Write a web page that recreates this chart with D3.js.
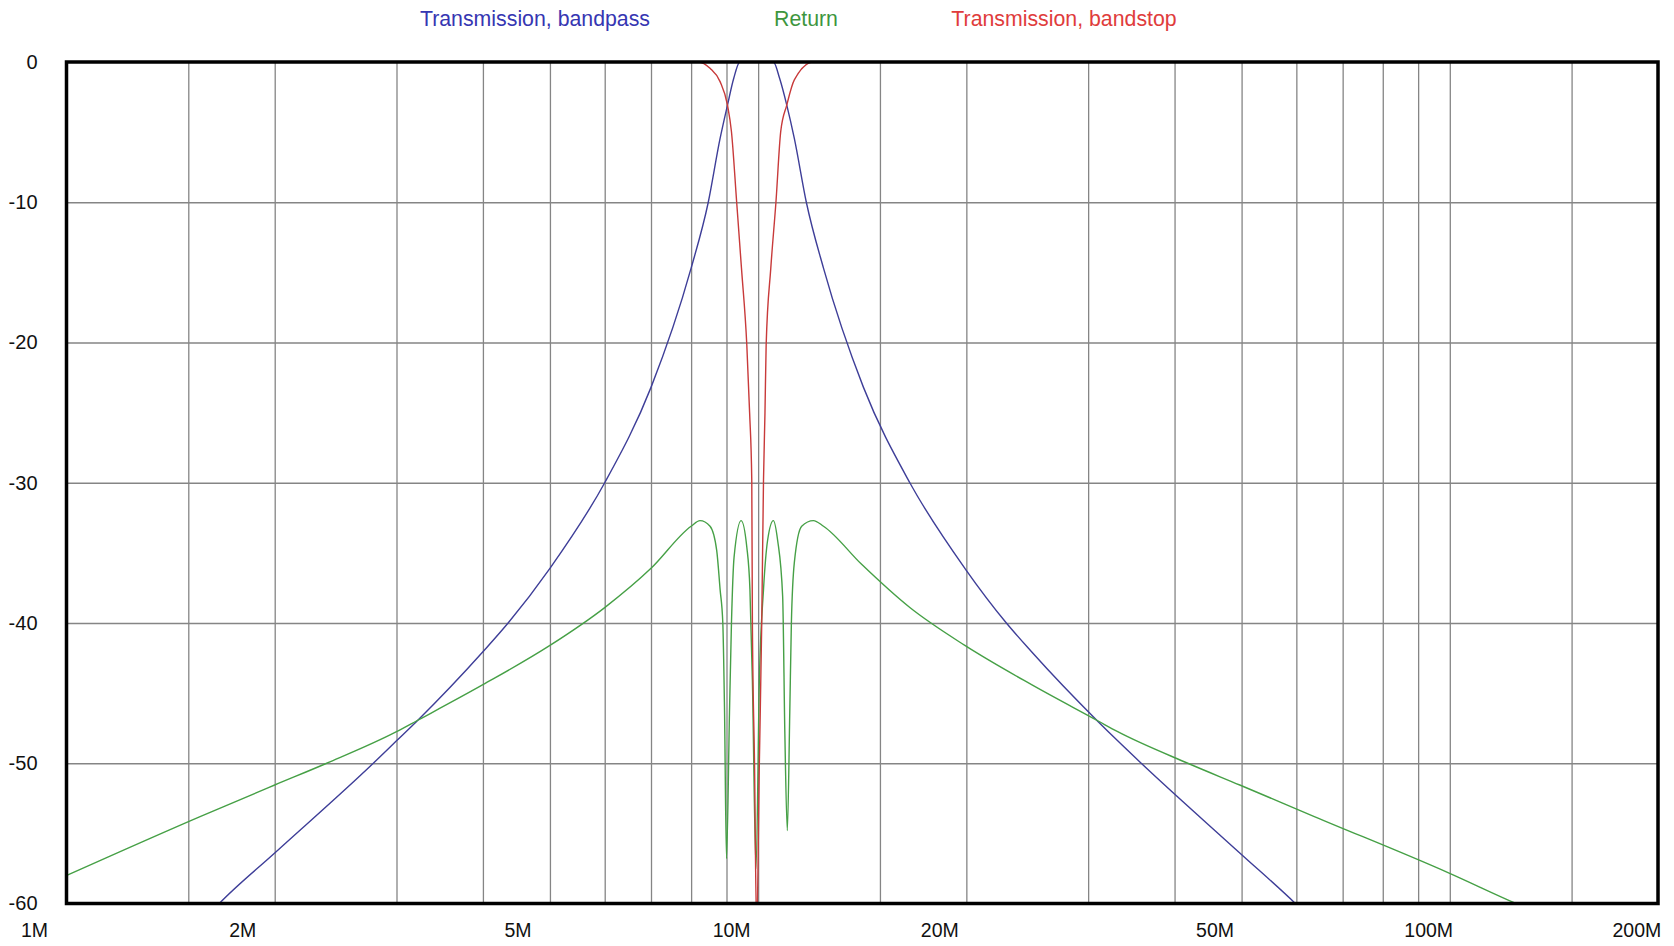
<!DOCTYPE html>
<html>
<head>
<meta charset="utf-8">
<script src="https://cdn.jsdelivr.net/npm/d3@7"></script>
<style>
  body { margin: 0; background: #fff; }
  svg { display: block; font-family: "Liberation Sans", Arial, sans-serif; }
</style>
</head>
<body>
<div class="vis-filter"></div>
<script>
// frequencies in MHz, levels in dB
var bandpassFreq = [1.0, 1.663, 2.0, 2.777, 3.0, 3.21, 4.0, 4.35, 5.0, 6.0, 7.0, 8.0, 8.47, 8.81, 9.03, 9.22, 9.41, 10.0, 10.52, 10.74, 11.0, 11.28, 11.74, 12.43, 14.2, 16.57, 19.9, 22.85, 24.85, 30.97, 33.1, 35.8, 49.7, 59.8, 200];
var bandpassDb   = [-75, -60, -56.4, -50, -48.4, -47, -42.05, -40, -36.1, -30, -23.2, -14.7, -10, -5.45, -3.07, -1.16, 0, 0, 0, -1.16, -3.07, -5.45, -10, -14.7, -23.2, -30, -36.1, -40, -42.05, -47, -48.4, -50, -56.4, -60, -95];

var returnFreq = [1.0, 1.56, 2.0, 2.378, 3.0, 3.21, 4.0, 5.0, 6.0, 7.0, 8.0, 8.24, 8.52, 8.71, 8.81, 8.89, 8.94, 9.0, 9.09, 9.15, 9.23, 9.45, 9.63, 9.73, 9.81, 9.93, 10.04, 10.18, 10.32, 10.52, 10.67, 10.85, 10.93, 11.02, 11.11, 11.17, 11.28, 11.56, 12.02, 12.43, 14.1, 16.57, 19.9, 24.85, 30.97, 33.1, 41.8, 49.7, 63.7, 99.4, 124.6, 200];
var returnDb   = [-58, -53.8, -51.55, -50, -47.75, -46.97, -44.4, -41.6, -38.9, -36.1, -33.1, -32.7, -33.1, -34.8, -37.6, -40, -46, -56.8, -46.4, -40, -35.3, -32.7, -34.6, -37.6, -44.1, -57.5, -44.1, -37.6, -34.1, -32.7, -34.1, -38.1, -47.9, -54.8, -46.4, -40, -35.7, -33.1, -32.7, -33.1, -35.8, -38.9, -41.6, -44.4, -46.97, -47.75, -50, -51.55, -53.8, -57.8, -60, -64];

var bandstopFreq = [1.0, 8.2, 8.52, 8.81, 9.03, 9.15, 9.31, 9.46, 9.63, 9.72, 9.79, 9.81, 9.88, 9.95, 10.04, 10.12, 10.18, 10.23, 10.27, 10.43, 10.61, 10.78, 11.0, 11.28, 12.02, 200];
var bandstopDb   = [0, 0, -0.45, -1.4, -3.07, -4.97, -10, -14.7, -20.2, -25, -29.8, -40, -50, -62, -50, -40, -29.8, -25, -20.2, -14.7, -10, -4.97, -3.07, -1.28, 0, 0];

var gridFreq = [1.5, 2, 3, 4, 5, 6, 7, 8, 9, 10, 15, 20, 30, 40, 50, 60, 70, 80, 90, 100, 150];
var xLabelFreq = [1, 2, 5, 10, 20, 50, 100, 200];
var xLabels = ["1M", "2M", "5M", "10M", "20M", "50M", "100M", "200M"];
var yTicks = [0, -10, -20, -30, -40, -50, -60];

var seriesNames = ["Transmission, bandpass", "Return", "Transmission, bandstop"];
var lineColors = ["#3e3e98", "#46a046", "#c83a3a"];
var textColors = ["#3636b2", "#3e963e", "#e03c3c"];

var plotLeft = 66.5, plotRight = 1658, plotTop = 62, plotBottom = 903.5;

var svg = d3.select(".vis-filter").append("svg")
    .attr("width", 1674)
    .attr("height", 946);

svg.append("rect").attr("width", 1674).attr("height", 946).attr("fill", "#fff");

var x = d3.scaleLog().domain([1, 200]).range([plotLeft, plotRight]);
var y = d3.scaleLinear().domain([-60, 0]).range([plotBottom, plotTop]);

// grid
svg.append("g")
    .attr("transform", "translate(0," + plotBottom + ")")
    .call(d3.axisBottom(x).tickValues(gridFreq).tickSize(-(plotBottom - plotTop)).tickFormat(""))
    .call(function(g) {
        g.select(".domain").remove();
        g.selectAll(".tick line").attr("stroke", "#858585").attr("stroke-width", 1.3);
    });

svg.append("g")
    .attr("transform", "translate(" + plotLeft + ",0)")
    .call(d3.axisLeft(y).tickValues([-10, -20, -30, -40, -50]).tickSize(-(plotRight - plotLeft)).tickFormat(""))
    .call(function(g) {
        g.select(".domain").remove();
        g.selectAll(".tick line").attr("stroke", "#858585").attr("stroke-width", 1.3);
    });

// curves
svg.append("clipPath").attr("id", "plot-clip")
    .append("rect")
    .attr("x", plotLeft).attr("y", plotTop)
    .attr("width", plotRight - plotLeft).attr("height", plotBottom - plotTop);

var line = d3.line()
    .x(function(d) { return x(d[0]); })
    .y(function(d) { return y(d[1]); })
    .curve(d3.curveMonotoneX);

var curves = [
    d3.zip(bandpassFreq, bandpassDb),
    d3.zip(returnFreq, returnDb),
    d3.zip(bandstopFreq, bandstopDb)
];

svg.append("g")
    .attr("clip-path", "url(#plot-clip)")
    .selectAll("path")
    .data(curves)
    .enter()
    .append("path")
    .attr("d", line)
    .attr("fill", "none")
    .attr("stroke", function(d, i) { return lineColors[i]; })
    .attr("stroke-width", 1.4)
    .attr("stroke-linejoin", "round");

// frame
svg.append("rect")
    .attr("x", plotLeft).attr("y", plotTop)
    .attr("width", plotRight - plotLeft).attr("height", plotBottom - plotTop)
    .attr("fill", "none")
    .attr("stroke", "#000")
    .attr("stroke-width", 3.5);

// x labels
svg.append("g")
    .attr("transform", "translate(0," + plotBottom + ")")
    .call(d3.axisBottom(x).tickValues(xLabelFreq).tickSize(0)
        .tickFormat(function(d, i) { return xLabels[i]; }))
    .call(function(g) {
        g.select(".domain").remove();
        g.selectAll(".tick text")
            .attr("text-anchor", "start")
            .attr("x", -46)
            .attr("y", 33)
            .attr("dy", 0)
            .attr("font-family", "Liberation Sans, Arial, sans-serif")
            .attr("font-size", 19.5)
            .attr("fill", "#111");
    });

// y labels (plain hyphen like the original)
svg.append("g")
    .attr("transform", "translate(" + plotLeft + ",0)")
    .call(d3.axisLeft(y).tickValues(yTicks).tickSize(0).tickPadding(29)
        .tickFormat(function(d) { return String(d); }))
    .call(function(g) {
        g.select(".domain").remove();
        g.selectAll(".tick text")
            .attr("font-family", "Liberation Sans, Arial, sans-serif")
            .attr("font-size", 20)
            .attr("fill", "#111");
    });

// legend
var legendX = [535, 806, 1064];
svg.selectAll(".legend")
    .data(seriesNames)
    .enter()
    .append("text")
    .attr("class", "legend")
    .attr("x", function(d, i) { return legendX[i]; })
    .attr("y", 26)
    .attr("text-anchor", "middle")
    .attr("font-size", 21.3)
    .attr("fill", function(d, i) { return textColors[i]; })
    .text(function(d) { return d; });
</script>
</body>
</html>
